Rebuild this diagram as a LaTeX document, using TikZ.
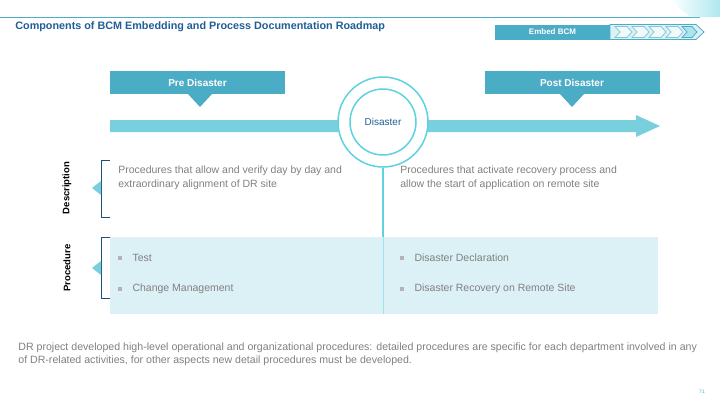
\documentclass[tikz,border=0pt]{standalone}
\usepackage{fontspec}
\setmainfont{Liberation Sans}
\usetikzlibrary{positioning,shapes.geometric}
\definecolor{teal}{RGB}{75,172,198}
\definecolor{cyanl}{RGB}{94,210,224}
\definecolor{bandc}{RGB}{120,208,222}
\definecolor{paleb}{RGB}{220,241,246}
\definecolor{navy}{RGB}{31,94,150}
\definecolor{greyt}{RGB}{128,128,128}
\definecolor{brk}{RGB}{31,78,121}
\tikzset{every picture/.style={line width=0.75pt}}
\tikzset{
  banner/.style={fill=teal,text=white,font=\bfseries\fontsize{10}{12}\selectfont,minimum width=175pt,minimum height=23pt,inner sep=0pt},
  desc/.style={text=greyt,font=\fontsize{10.5}{13.5}\selectfont,align=left,anchor=north west,inner sep=0pt},
  side/.style={font=\bfseries\fontsize{9.5}{11}\selectfont,rotate=90},
  bull/.style={fill=greyt!60,minimum size=3.5pt,inner sep=0pt},
}
\begin{document}
\begin{tikzpicture}[x=1pt,y=1pt,yscale=-1]
	\useasboundingbox (0,0) rectangle (720,405);

	%top rule and corner
	\draw [teal,line width=0.6pt] (0,17) -- (700,17) ;
	\shade [left color=white,right color=cyanl!50] (670,0) -- (720,0) -- (720,17) -- (690,17) -- cycle ;
	% Text Node
	\node [anchor=west,text=navy,font=\bfseries\fontsize{10.8}{13}\selectfont,inner sep=0pt] (title) at (15,27) {Components of BCM Embedding and Process Documentation Roadmap};

	%Embed BCM tag
	\node [fill=teal,text=white,font=\bfseries\fontsize{8}{9}\selectfont,minimum width=115pt,minimum height=15pt,inner sep=0pt] (embed) at (552.5,32) {Embed BCM};
	\draw [teal,fill=paleb] (610,24.5) -- (696,24.5) -- (704,32) -- (696,39.5) -- (610,39.5) -- cycle ;
	\foreach \cx in {615,632,649,666} {
		\draw [teal!70,fill=white!60!paleb] (\cx,26.5) -- (\cx+12,26.5) -- (\cx+17,32) -- (\cx+12,37.5) -- (\cx,37.5) -- (\cx+5,32) -- cycle ;
	}
	\draw [teal,fill=bandc!60] (682,26.5) -- (692,26.5) -- (697,32) -- (692,37.5) -- (682,37.5) -- (687,32) -- cycle ;

	%timeline arrow
	\fill [bandc] (110,120) -- (636,120) -- (636,115) -- (660,126) -- (636,137) -- (636,132) -- (110,132) -- cycle ;

	%banners
	\node [banner] (pre) at (197.5,82.5) {Pre Disaster};
	\fill [teal] (188,94) -- (212,94) -- (200,107) -- cycle ;
	\node [banner] (post) at (572,82.5) {Post Disaster};
	\fill [teal] (560,94) -- (584,94) -- (572,107) -- cycle ;

	%procedure panel
	\fill [paleb] (110,237) rectangle (658,314) ;
	\draw [cyanl!60,line width=1pt] (383,237) -- (383,314) ;

	%circle
	\node [circle,fill=white,draw=cyanl,line width=1.5pt,minimum size=90pt] (outer) at (383,122) {};
	\node [circle,draw=cyanl,line width=1.5pt,minimum size=66pt,text=navy,font=\fontsize{10}{12}\selectfont] (dis) at (383,122) {Disaster};
	\coordinate (split) at (383,237);
	\draw [cyanl,line width=1.5pt] (outer.south) -- (split) ;

	%brackets
	\draw [brk,line width=0.8pt] (110,160) -- (101,160) -- (101,217) -- (110,217) ;
	\fill [bandc] (101,181) -- (101,195) -- (92,188) -- cycle ;
	\draw [brk,line width=0.8pt] (110,237) -- (101,237) -- (101,298) -- (110,298) ;
	\fill [bandc] (101,261) -- (101,275) -- (92,268) -- cycle ;
	\node [side] (lbdesc) at (67,188) {Description};
	\node [side] (lbproc) at (67,268) {Procedure};

	%descriptions
	\node [desc] (dpre) at (118,166) {Procedures that allow and verify day by day and\\extraordinary alignment of DR site};
	\node [desc] (dpost) at (400,166) {Procedures that activate recovery process and\\allow the start of application on remote site};

	%bullets
	\node [bull] (b1) at (120,258) {};
	\node [desc,anchor=west,right=10pt of b1] {Test};
	\node [bull] (b2) at (120,289) {};
	\node [desc,anchor=west,right=10pt of b2] {Change Management};
	\node [bull] (b3) at (402,258) {};
	\node [desc,anchor=west,right=10pt of b3] {Disaster Declaration};
	\node [bull] (b4) at (402,289) {};
	\node [desc,anchor=west,right=10pt of b4] {Disaster Recovery on Remote Site};

	% Text Node
	\node [desc,font=\fontsize{10.6}{13.5}\selectfont] (note) at (18,342) {DR project developed high-level operational and organizational procedures: detailed procedures are specific for each department involved in any\\of DR-related activities, for other aspects new detail procedures must be developed.};
	\node [text=teal,font=\fontsize{5}{6}\selectfont,inner sep=0pt] (pg) at (702,392) {71};

\end{tikzpicture}
\end{document}
